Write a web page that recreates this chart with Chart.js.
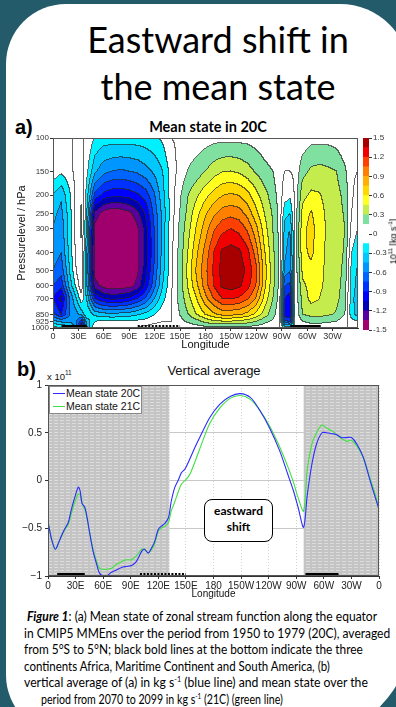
<!DOCTYPE html>
<html>
<head>
<meta charset="utf-8">
<script src="https://cdn.jsdelivr.net/npm/chart.js@4.4.1/dist/chart.umd.min.js"></script>
<style>
  html, body { margin: 0; padding: 0; }
  body {
    width: 396px; height: 707px; overflow: hidden; position: relative;
    background: #245b6b; font-family: Arial, "Liberation Sans", sans-serif;
  }
  #card {
    position: absolute; left: 6px; top: 4px; width: 404px; height: 731px;
    background: #fff; border-radius: 60px 70px 100px 60px;
  }
  .abs { position: absolute; white-space: nowrap; }
  canvas { position: absolute; }
  #title {
    left: 0; top: 16px; width: 436px; text-align: center;
    font-family: Lato, "Open Sans", sans-serif; font-size: 36px; line-height: 47px; color: #000;
  }
  .panel { font-weight: bold; font-size: 20px; color: #000; }
  .cap {
    font-family: Lato, "Open Sans", sans-serif; font-size: 13.5px; line-height: 17px; color: #000;
    transform-origin: 0 50%;
  }
  .cap sup { font-size: 8px; line-height: 0; }
  #legendB {
    left: 49px; top: 386px; width: 91px; height: 26px; background: #fff;
    border: 1px solid #888; font-size: 10.5px; line-height: 13px; color: #111;
  }
  #legendB div { position: relative; padding-left: 16px; }
  #legendB span { position: absolute; left: 3px; top: 6px; width: 12px; height: 0; border-top: 1.3px solid; }
  #shiftBox {
    left: 204px; top: 499px; width: 67px; height: 38px; border: 1.6px solid #000; border-radius: 8px;
    background: #fff; text-align: center; font-family: Lato, "Open Sans", sans-serif;
    font-weight: bold; font-size: 12px; line-height: 16px; padding-top: 3px; box-sizing: content-box;
  }
</style>
</head>
<body>
<div id="card"></div>
<div id="title" class="abs">Eastward shift in<br>the mean state</div>

<div class="abs panel" style="left:15px;top:116px;">a)</div>
<div class="abs" style="left:108px;top:118px;width:200px;text-align:center;font-family:Lato,'Open Sans',sans-serif;font-weight:bold;font-size:14.5px;">Mean state in 20C</div>
<canvas id="chartA" width="362" height="225" style="left:0;top:130px;"></canvas>
<canvas id="cbar" width="41" height="220" style="left:355px;top:125px;"></canvas>
<div class="abs" style="left:370px;top:236px;font-size:9px;transform:rotate(-90deg);transform-origin:center;">10<sup style="font-size:6px">11</sup> [kg s<sup style="font-size:6px">-1</sup>]</div>

<div class="abs panel" style="left:17px;top:358px;">b)</div>
<div class="abs" style="left:114px;top:363px;width:200px;text-align:center;font-size:13px;color:#111;">Vertical average</div>
<div class="abs" style="left:47px;top:371px;font-size:9.5px;color:#111;">x 10<sup style="font-size:6.5px;vertical-align:5px;line-height:0">11</sup></div>
<canvas id="chartB" width="396" height="245" style="left:0;top:360px;"></canvas>
<div id="legendB" class="abs"></div>
<div id="shiftBox" class="abs">eastward<br>shift</div>

<div class="abs cap" data-w="350" style="left:27px;top:608px;"><b><i>Figure 1</i></b>: (a) Mean state of zonal stream function along the equator</div>
<div class="abs cap" data-w="366" style="left:24px;top:624.5px;">in CMIP5 MMEns over the period from 1950 to 1979 (20C), averaged</div>
<div class="abs cap" data-w="339" style="left:24px;top:641px;">from 5°S to 5°N; black bold lines at the bottom indicate the three</div>
<div class="abs cap" data-w="306" style="left:24px;top:657.5px;">continents Africa, Maritime Continent and South America, (b)</div>
<div class="abs cap" data-w="344" style="left:24px;top:674px;">vertical average of (a) in kg s<sup>-1</sup> (blue line) and mean state over the</div>
<div class="abs cap" data-w="242" style="left:41px;top:690.5px;">period from 2070 to 2099 in kg s<sup>-1</sup> (21C) (green line)</div>

<script>
// longitude axis (degrees east, 0..360)
const LON_TICKS = [0, 30, 60, 90, 120, 150, 180, 210, 240, 270, 300, 330, 360];
const LON_LABELS = ['0', '30E', '60E', '90E', '120E', '150E', '180', '150W', '120W', '90W', '60W', '30W', '0'];

// continents along the bottom: Africa, Maritime Continent (dotted), South America
const CONT_START = [10, 100, 280];
const CONT_END = [40, 150, 316];
const CONT_DOTTED = [false, true, false];

// (a) zonal stream function, 1e11 kg/s, on pressure levels x longitude nodes
const P_TICKS = [100, 150, 200, 250, 300, 400, 500, 600, 700, 850, 925, 1000];
const P_LEVELS = [100, 150, 200, 250, 300, 400, 500, 600, 700, 850, 925, 1000];
const LON_GRID = [0, 10, 20, 28, 34, 40, 50, 60, 70, 80, 90, 100, 110, 120, 130, 140, 150, 160, 170, 180,
  190, 200, 210, 220, 230, 240, 250, 260, 268, 274, 280, 286, 295, 305, 315, 325, 335, 345, 353, 360];

const PSI_100 = [0, 0, 0, 0, 0, 0, -0.17, -0.22, -0.22, -0.22, -0.22, -0.22, -0.21, -0.18, -0.12, 0, 0.02, 0.05, 0.06, 0.08,
  0.1, 0.1, 0.1, 0.1, 0.1, 0.08, 0.05, 0.03, 0, 0, 0, 0, 0.05, 0.1, 0.1, 0.1, 0.08, 0.02, 0, 0];
const PSI_150 = [-0.05, -0.12, -0.05, 0.05, 0.1, -0.1, -0.42, -0.55, -0.6, -0.62, -0.6, -0.57, -0.5, -0.42, -0.3, -0.08, 0.05, 0.16, 0.22, 0.3,
  0.38, 0.44, 0.45, 0.42, 0.36, 0.28, 0.2, 0.15, 0.06, 0, 0, 0.02, 0.25, 0.33, 0.35, 0.33, 0.3, 0.18, 0.02, 0];
const PSI_200 = [-0.3, -0.42, -0.18, 0.05, 0.14, -0.2, -0.8, -0.95, -1.0, -1.0, -0.98, -0.92, -0.82, -0.62, -0.35, -0.08, 0.12, 0.3, 0.42, 0.55,
  0.66, 0.74, 0.77, 0.74, 0.65, 0.5, 0.36, 0.22, 0.08, -0.08, -0.12, 0.02, 0.4, 0.48, 0.46, 0.4, 0.36, 0.25, 0.02, -0.05];
const PSI_250 = [-0.4, -0.5, -0.22, 0.06, 0.17, -0.25, -1.25, -1.42, -1.48, -1.45, -1.4, -1.25, -1.02, -0.7, -0.4, -0.08, 0.15, 0.35, 0.55, 0.72,
  0.87, 0.97, 1.0, 0.97, 0.85, 0.65, 0.45, 0.28, 0.1, -0.25, -0.3, 0.02, 0.5, 0.62, 0.5, 0.42, 0.38, 0.28, 0, -0.1];
const PSI_300 = [-0.45, -0.55, -0.22, 0.06, 0.18, -0.3, -1.4, -1.62, -1.7, -1.67, -1.58, -1.38, -1.12, -0.75, -0.38, -0.06, 0.18, 0.4, 0.62, 0.82,
  1.02, 1.15, 1.2, 1.15, 1.02, 0.8, 0.52, 0.3, 0.1, -0.35, -0.45, 0.02, 0.55, 0.66, 0.52, 0.42, 0.38, 0.3, -0.05, -0.15];
const PSI_400 = [-0.5, -0.6, -0.25, 0.05, 0.12, -0.4, -1.45, -1.68, -1.76, -1.72, -1.62, -1.4, -1.15, -0.78, -0.38, -0.05, 0.2, 0.46, 0.72, 0.95,
  1.2, 1.38, 1.42, 1.38, 1.25, 0.98, 0.62, 0.34, 0.12, -0.4, -0.55, 0.02, 0.55, 0.64, 0.5, 0.42, 0.38, 0.28, -0.15, -0.25];
const PSI_500 = [-0.6, -0.7, -0.3, 0, 0.15, -0.42, -1.42, -1.6, -1.66, -1.64, -1.55, -1.38, -1.1, -0.72, -0.35, -0.05, 0.22, 0.5, 0.78, 1.0,
  1.22, 1.4, 1.47, 1.43, 1.32, 1.1, 0.68, 0.36, 0.12, -0.5, -0.6, 0.02, 0.48, 0.55, 0.48, 0.42, 0.38, 0.25, -0.2, -0.32];
const PSI_600 = [-0.75, -0.85, -0.4, -0.1, 0.1, -0.4, -1.28, -1.42, -1.45, -1.44, -1.42, -1.3, -1.0, -0.65, -0.3, -0.03, 0.22, 0.47, 0.72, 0.97,
  1.2, 1.38, 1.42, 1.38, 1.26, 1.05, 0.65, 0.35, 0.1, -0.75, -0.8, 0.02, 0.42, 0.5, 0.47, 0.42, 0.37, 0.22, -0.22, -0.35];
const PSI_700 = [-0.9, -1.1, -0.6, -0.3, -0.05, -0.3, -0.9, -1.05, -1.1, -1.08, -1.02, -0.9, -0.72, -0.45, -0.2, 0, 0.2, 0.4, 0.6, 0.85,
  1.05, 1.2, 1.22, 1.18, 1.08, 0.88, 0.55, 0.3, 0.08, -0.9, -1.0, 0.02, 0.35, 0.5, 0.45, 0.4, 0.35, 0.2, -0.25, -0.38];
const PSI_850 = [-0.7, -0.9, -0.6, -0.5, -0.4, -0.15, -0.35, -0.4, -0.42, -0.4, -0.38, -0.32, -0.25, -0.15, -0.05, 0, 0.15, 0.3, 0.45, 0.6,
  0.72, 0.8, 0.8, 0.78, 0.7, 0.55, 0.38, 0.2, 0.05, -1.0, -1.05, 0, 0.3, 0.35, 0.35, 0.32, 0.28, 0.15, -0.25, -0.35];
const PSI_925 = [-0.4, -0.5, -0.5, -0.6, -0.85, -0.4, -0.15, -0.14, -0.14, -0.14, -0.13, -0.12, -0.1, -0.06, 0, 0, 0.1, 0.18, 0.25, 0.35,
  0.42, 0.45, 0.45, 0.42, 0.38, 0.3, 0.2, 0.12, 0.02, -0.7, -0.8, 0, 0.15, 0.2, 0.2, 0.18, 0.15, 0.05, -0.1, -0.15];
const PSI_1000 = [-0.1, -0.15, -0.2, -0.5, -1.1, -0.5, 0, 0, 0, 0, 0, 0, 0.05, 0.1, 0.1, 0, 0.02, 0.05, 0.08, 0.1,
  0.12, 0.12, 0.12, 0.12, 0.1, 0.08, 0.05, 0.02, 0, -0.2, -0.2, 0, 0.02, 0.05, 0.05, 0.03, 0.02, 0, 0, 0];
const FIELD = [PSI_100, PSI_150, PSI_200, PSI_250, PSI_300, PSI_400, PSI_500, PSI_600, PSI_700, PSI_850, PSI_925, PSI_1000];

// colour levels of (a): 0.15 steps from -1.5 to 1.5
const LEVEL_MIN = -1.5;
const LEVEL_STEP = 0.15;
const FILL_COLORS = ['#a0006e', '#5a00a0', '#0000b4', '#0000ff', '#0032ff', '#0064ff', '#0096ff', '#00c8ff', '#00f0ff', '#ffffff',
  '#ffffff', '#80e0a0', '#c4ec4c', '#ffff20', '#ffd800', '#ffb000', '#ff8000', '#ff4000', '#f00000', '#a80000'];
const CBAR_TICKS = [-1.5, -1.2, -0.9, -0.6, -0.3, 0, 0.3, 0.6, 0.9, 1.2, 1.5];

// (b) vertical average, 1e11 kg/s
const LON_B = [0, 4, 8, 12, 15, 18, 22, 25, 29, 33, 35, 37, 40, 42, 45, 49, 53, 56, 60, 64, 69, 74, 80, 85, 91, 96,
  102, 105, 109, 113, 116, 120, 123, 127, 131, 134, 138, 142, 145, 149, 154, 160, 165, 176, 187, 198, 209, 220,
  230, 241, 252, 261, 267, 272, 278, 282, 287, 292, 298, 303, 309, 314, 319, 325, 330, 336, 343, 350, 356, 360];
const AVG_20C = [-0.43, -0.62, -0.72, -0.64, -0.57, -0.51, -0.44, -0.32, -0.18, -0.07, -0.11, -0.24, -0.28, -0.36, -0.53,
  -0.74, -0.88, -0.97, -1.0, -1.0, -0.96, -0.94, -0.91, -0.9, -0.89, -0.85, -0.74, -0.72, -0.76, -0.7, -0.64, -0.51,
  -0.48, -0.45, -0.39, -0.22, -0.07, 0.01, 0.08, 0.12, 0.22, 0.35, 0.45, 0.66, 0.8, 0.88, 0.91, 0.87, 0.74, 0.55,
  0.31, 0.06, -0.11, -0.28, -0.49, -0.15, 0.17, 0.38, 0.5, 0.5, 0.49, 0.48, 0.45, 0.45, 0.45, 0.38, 0.24, 0.01, -0.18, -0.3];
const AVG_21C = [-0.43, -0.62, -0.72, -0.64, -0.58, -0.52, -0.46, -0.36, -0.23, -0.14, -0.15, -0.24, -0.3, -0.38, -0.53,
  -0.72, -0.85, -0.92, -0.93, -0.93, -0.92, -0.88, -0.85, -0.83, -0.83, -0.79, -0.72, -0.72, -0.76, -0.72, -0.66, -0.53,
  -0.5, -0.48, -0.44, -0.32, -0.22, -0.11, -0.04, 0.0, 0.06, 0.2, 0.33, 0.6, 0.76, 0.86, 0.89, 0.85, 0.74, 0.57,
  0.35, 0.14, -0.02, -0.18, -0.32, 0.12, 0.38, 0.5, 0.58, 0.55, 0.52, 0.48, 0.44, 0.41, 0.42, 0.36, 0.24, 0.03, -0.15, -0.3];
const Y_TICKS = [-1, -0.5, 0, 0.5, 1];
const Y_LABELS = ['\u22121', '\u22120.5', '0', '0.5', '1'];
const SHADE_START = [0, 278];
const SHADE_END = [132, 360];
const SERIES_LABELS = ['Mean state 20C', 'Mean state 21C'];
const SERIES_COLORS = ['#2b2bff', '#3fe03f'];

Chart.defaults.font.family = 'Arial, "Liberation Sans", sans-serif';
Chart.defaults.color = '#222';

const lonLabel = (v) => LON_LABELS[LON_TICKS.indexOf(v)] ?? '';
const hexToRgb = (h) => [1, 3, 5].map((i) => parseInt(h.slice(i, i + 2), 16));
const clamp01 = (v) => Math.max(0, Math.min(1, v));

const continentPlugin = {
  id: 'continents',
  afterDatasetsDraw(chart) {
    const { ctx, chartArea: area, scales: { x } } = chart;
    ctx.save();
    ctx.strokeStyle = '#000';
    ctx.lineWidth = 3;
    CONT_START.forEach((lo, i) => {
      ctx.setLineDash(CONT_DOTTED[i] ? [2, 1.5] : []);
      ctx.beginPath();
      ctx.moveTo(x.getPixelForValue(lo), area.bottom - 1.5);
      ctx.lineTo(x.getPixelForValue(CONT_END[i]), area.bottom - 1.5);
      ctx.stroke();
    });
    ctx.restore();
  },
};

const framePlugin = {
  id: 'frame',
  afterDraw(chart, args, opts) {
    const { ctx, chartArea: a } = chart;
    ctx.save();
    ctx.strokeStyle = opts.color || '#444';
    ctx.lineWidth = 1;
    ctx.strokeRect(Math.round(a.left) + 0.5, Math.round(a.top) + 0.5,
      Math.round(a.right - a.left) - 1, Math.round(a.bottom - a.top) - 1);
    ctx.restore();
  },
};

// filled contours of (a), bilinear between grid nodes, with contour lines on level edges
const contourPlugin = {
  id: 'contourFill',
  beforeDatasetsDraw(chart) {
    const { ctx, chartArea: area, scales: { x, y } } = chart;
    const left = Math.round(area.left), top = Math.round(area.top);
    const w = Math.round(area.right) - left;
    const h = Math.round(area.bottom) - top;
    const rgb = FILL_COLORS.map(hexToRgb);
    const bands = new Int16Array(w * h);

    const cols = [];
    for (let px = 0; px < w; px++) {
      const lon = x.getValueForPixel(left + px + 0.5);
      let j = 0;
      while (j < LON_GRID.length - 2 && LON_GRID[j + 1] < lon) j++;
      cols.push([j, clamp01((lon - LON_GRID[j]) / (LON_GRID[j + 1] - LON_GRID[j]))]);
    }
    for (let py = 0; py < h; py++) {
      const p = y.getValueForPixel(top + py + 0.5);
      let i = 0;
      while (i < P_LEVELS.length - 2 && P_LEVELS[i + 1] < p) i++;
      const t = clamp01(Math.log(p / P_LEVELS[i]) / Math.log(P_LEVELS[i + 1] / P_LEVELS[i]));
      const r0 = FIELD[i], r1 = FIELD[i + 1];
      for (let px = 0; px < w; px++) {
        const [j, s] = cols[px];
        const v = (1 - t) * ((1 - s) * r0[j] + s * r0[j + 1]) + t * ((1 - s) * r1[j] + s * r1[j + 1]);
        const k = Math.floor((v - LEVEL_MIN) / LEVEL_STEP + 1e-9);
        bands[py * w + px] = Math.max(0, Math.min(FILL_COLORS.length - 1, k));
      }
    }

    const img = ctx.createImageData(w, h);
    for (let py = 0; py < h; py++) {
      for (let px = 0; px < w; px++) {
        const idx = py * w + px;
        const k = bands[idx];
        let c = rgb[k];
        const edge = (px < w - 1 && bands[idx + 1] !== k) || (py < h - 1 && bands[idx + w] !== k);
        if (edge) c = c.map((ch) => Math.round(ch * 0.3 + 35 * 0.7));
        img.data[idx * 4] = c[0];
        img.data[idx * 4 + 1] = c[1];
        img.data[idx * 4 + 2] = c[2];
        img.data[idx * 4 + 3] = 255;
      }
    }
    ctx.putImageData(img, left, top);
  },
};

// gray hatched shading for (b)
const shadePlugin = {
  id: 'shade',
  beforeDatasetsDraw(chart) {
    const { ctx, chartArea: area, scales: { x } } = chart;
    const tile = document.createElement('canvas');
    tile.width = 6;
    tile.height = 3;
    const tctx = tile.getContext('2d');
    tctx.fillStyle = '#c4c4c4';
    tctx.fillRect(0, 0, 6, 3);
    tctx.fillStyle = '#dcdcdc';
    tctx.fillRect(0, 0, 4, 1);
    ctx.save();
    ctx.fillStyle = ctx.createPattern(tile, 'repeat');
    SHADE_START.forEach((lo, i) => {
      const x0 = x.getPixelForValue(lo), x1 = x.getPixelForValue(SHADE_END[i]);
      ctx.fillRect(x0, area.top, x1 - x0, area.bottom - area.top);
    });
    ctx.restore();
  },
};

function renderPanelA() {
  const nodes = [];
  P_LEVELS.forEach((p) => LON_GRID.forEach((lon) => nodes.push({ x: lon, y: p })));
  new Chart(document.getElementById('chartA'), {
    type: 'scatter',
    data: { datasets: [{ data: nodes, pointRadius: 0 }] },
    plugins: [contourPlugin, continentPlugin, framePlugin],
    options: {
      animation: false,
      responsive: false,
      events: [],
      layout: { padding: { top: 8, right: 4, left: 0, bottom: 0 } },
      plugins: { legend: { display: false }, tooltip: { enabled: false }, frame: { color: '#555' } },
      scales: {
        x: {
          type: 'linear', min: 0, max: 360,
          afterBuildTicks: (s) => { s.ticks = LON_TICKS.slice(0, -1).map((v) => ({ value: v })); },
          afterFit: (s) => { s.height = 27; },
          ticks: { callback: lonLabel, autoSkip: false, maxRotation: 0, padding: 0,
            font: { size: 9, family: '"Liberation Sans Narrow", "Arial Narrow", Arial, sans-serif' }, color: '#333' },
          grid: { drawOnChartArea: false, tickLength: 3, tickColor: '#333' },
          border: { color: '#333' },
          title: { display: true, text: 'Longitude', font: { size: 11 }, color: '#111', padding: { top: 0, bottom: 3 } },
        },
        y: {
          type: 'logarithmic', min: 100, max: 1000, reverse: true,
          afterBuildTicks: (s) => { s.ticks = P_TICKS.map((v) => ({ value: v })); },
          afterFit: (s) => { s.width = 53; },
          ticks: { callback: (v) => String(v), autoSkip: false, padding: 1, font: { size: 8 }, color: '#333' },
          grid: { drawOnChartArea: false, tickLength: 3, tickColor: '#333' },
          border: { color: '#333' },
          title: { display: true, text: 'Pressurelevel / hPa', font: { size: 11 }, color: '#111', padding: { top: 15, bottom: 0 } },
        },
      },
    },
  });
}

function renderColorbar() {
  const datasets = FILL_COLORS.map((color, i) => ({
    data: [[LEVEL_MIN + i * LEVEL_STEP, LEVEL_MIN + (i + 1) * LEVEL_STEP]],
    backgroundColor: color,
    borderWidth: 0,
    grouped: false,
    barPercentage: 1,
    categoryPercentage: 1,
  }));
  new Chart(document.getElementById('cbar'), {
    type: 'bar',
    data: { labels: [''], datasets },
    options: {
      animation: false,
      responsive: false,
      events: [],
      layout: { padding: { top: 13, bottom: 15, left: 8, right: 0 } },
      plugins: { legend: { display: false }, tooltip: { enabled: false } },
      scales: {
        x: { display: false },
        y: {
          position: 'right', min: -1.5, max: 1.5,
          afterBuildTicks: (s) => { s.ticks = CBAR_TICKS.map((v) => ({ value: v })); },
          afterFit: (s) => { s.width = 27; },
          ticks: { callback: (v) => (Math.abs(v) < 1e-9 ? '0' : v.toFixed(1)), padding: 1, font: { size: 8 }, color: '#333' },
          grid: { drawOnChartArea: false, tickLength: 3, tickColor: '#333' },
          border: { display: false },
        },
      },
    },
  });
}

function renderPanelB() {
  const series = [AVG_20C, AVG_21C];
  new Chart(document.getElementById('chartB'), {
    type: 'line',
    data: {
      datasets: series.map((vals, i) => ({
        label: SERIES_LABELS[i],
        data: LON_B.map((lon, k) => ({ x: lon, y: vals[k] })),
        borderColor: SERIES_COLORS[i],
        borderWidth: 1.1,
        pointRadius: 0,
        tension: 0.3,
        fill: false,
      })),
    },
    plugins: [shadePlugin, continentPlugin, framePlugin],
    options: {
      animation: false,
      responsive: false,
      events: [],
      layout: { padding: { top: 25, right: 17, left: 0, bottom: 0 } },
      plugins: { legend: { display: false }, tooltip: { enabled: false }, frame: { color: '#555' } },
      scales: {
        x: {
          type: 'linear', min: 0, max: 360,
          afterBuildTicks: (s) => { s.ticks = LON_TICKS.map((v) => ({ value: v })); },
          afterFit: (s) => { s.height = 29; },
          ticks: { callback: lonLabel, autoSkip: false, maxRotation: 0, padding: 1, font: { size: 10 }, color: '#222' },
          grid: { color: '#d2d2d2', tickLength: 3, tickColor: '#333' },
          border: { color: '#333', dash: [1, 2] },
          title: { display: true, text: 'Longitude', font: { size: 10 }, color: '#111', padding: { top: 0, bottom: 5 } },
        },
        y: {
          type: 'linear', min: -1, max: 1,
          afterBuildTicks: (s) => { s.ticks = Y_TICKS.map((v) => ({ value: v })); },
          afterFit: (s) => { s.width = 48; },
          ticks: { callback: (v) => Y_LABELS[Y_TICKS.indexOf(v)], padding: 3, font: { size: 10 }, color: '#222' },
          grid: { color: '#c8c8c8', tickLength: 3, tickColor: '#333' },
          border: { color: '#333' },
        },
      },
    },
  });

  const legend = document.getElementById('legendB');
  SERIES_LABELS.forEach((label, i) => {
    const row = document.createElement('div');
    row.innerHTML = `<span style="border-color:${SERIES_COLORS[i]}"></span>${label}`;
    legend.append(row);
  });
}

// squeeze caption lines to the width they take in the poster
function fitCaption() {
  document.querySelectorAll('.cap').forEach((el) => {
    const target = Number(el.dataset.w);
    const actual = el.getBoundingClientRect().width;
    if (actual > 0) el.style.transform = `scaleX(${(target / actual).toFixed(3)})`;
  });
}

renderPanelA();
renderColorbar();
renderPanelB();
fitCaption();
</script>
</body>
</html>
